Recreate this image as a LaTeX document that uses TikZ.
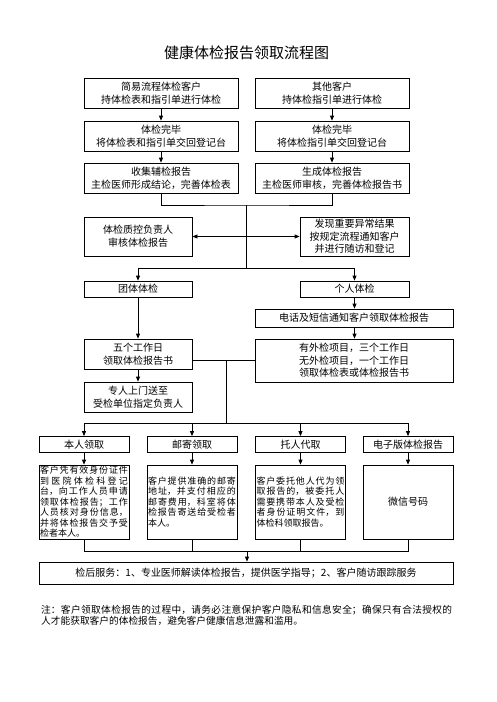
\documentclass[tikz,border=0pt]{standalone}
\usepackage{fontspec}
\setmainfont{Noto Sans CJK SC}
\usepackage{tikz}
\usetikzlibrary{arrows.meta}
\XeTeXlinebreaklocale "zh"
\XeTeXlinebreakskip=0pt plus 2pt

\begin{document}
\begin{tikzpicture}[x=1pt,y=-1pt,
    box/.style={draw,line width=0.75pt,inner sep=0pt,align=center,
      font=\fontsize{10}{13}\selectfont},
    txtbox/.style={draw,line width=0.75pt,inner sep=0pt,text width=88pt,
      align=justify,minimum width=90pt,minimum height=74pt,
      font=\fontsize{9}{10.5}\selectfont},
    arr/.style={-{Triangle[length=5pt,width=4pt]}},
    line/.style={line width=0.75pt}]
    \useasboundingbox (0,0) rectangle (496,702);
    \node[font=\fontsize{15}{18}\selectfont] (title) at (246.5,53) {健康体检报告领取流程图};
    % two entry columns
    \node[box,minimum width=154,minimum height=30] (a1) at (161,93) {简易流程体检客户\\持体检表和指引单进行体检};
    \node[box,minimum width=154,minimum height=30] (b1) at (332,93) {其他客户\\持体检指引单进行体检};
    \node[box,minimum width=154,minimum height=30] (a2) at (161,136) {体检完毕\\将体检表和指引单交回登记台};
    \node[box,minimum width=154,minimum height=30] (b2) at (332,136) {体检完毕\\将体检指引单交回登记台};
    \node[box,minimum width=154,minimum height=30] (a3) at (161,178) {收集辅检报告\\主检医师形成结论，完善体检表};
    \node[box,minimum width=154,minimum height=30] (b3) at (332,178) {生成体检报告\\主检医师审核，完善体检报告书};
    \draw[line,arr] (a1) -- (a2);
    \draw[line,arr] (a2) -- (a3);
    \draw[line,arr] (b1) -- (b2);
    \draw[line,arr] (b2) -- (b3);
    \coordinate (j1) at (246.5,205);
    \coordinate (j2) at (246.5,268);
    \draw[line] (a3.south) |- (j1) -| (b3.south);
    \draw[line] (j1) -- (j2);
    % review
    \node[box,minimum width=108,minimum height=39] (qc) at (138,236.5) {体检质控负责人\\审核体检报告};
    \node[box,minimum width=109,minimum height=39,font=\fontsize{10}{12.5}\selectfont] (abn) at (354.5,236.5) {发现重要异常结果\\按规定流程通知客户\\并进行随访和登记};
    \draw[line,{Triangle[length=5pt,width=4pt]}-{Triangle[length=5pt,width=4pt]}] (qc.east) -- (abn.west);
    % group / personal
    \node[box,minimum width=108,minimum height=16] (grp) at (138,289) {团体体检};
    \node[box,minimum width=109,minimum height=16] (per) at (354.5,289) {个人体检};
    \draw[line,arr] (j2) -| (grp.north);
    \draw[line,arr] (j2) -| (per.north);
    \node[box,minimum width=198,minimum height=18] (phone) at (354,318) {电话及短信通知客户领取体检报告};
    \node[box,minimum width=198,minimum height=43,font=\fontsize{10}{12.3}\selectfont] (ext) at (354,360.5) {有外检项目，三个工作日\\无外检项目，一个工作日\\领取体检表或体检报告书};
    \draw[line,arr] (per.south) -- (per.south |- phone.north);
    \draw[line,arr] (per.south |- phone.south) -- (per.south |- ext.north);
    \node[box,minimum width=108,minimum height=30,font=\fontsize{10}{12.5}\selectfont] (five) at (138,354) {五个工作日\\领取体检报告书};
    \node[box,minimum width=108,minimum height=30,font=\fontsize{10}{13.5}\selectfont] (send) at (138,397) {专人上门送至\\受检单位指定负责人};
    \draw[line,arr] (grp) -- (five);
    \draw[line,arr] (five) -- (send);
    \coordinate (j3) at (226,360.5);
    \coordinate (j4) at (226,423);
    \draw[line] (ext.west) -- (five.east |- ext.west);
    \draw[line] (j3) -- (j4);
    % ways to collect
    \node[box,minimum width=90,minimum height=16] (l1) at (84,444.5) {本人领取};
    \node[box,minimum width=90,minimum height=16] (l2) at (192,444.5) {邮寄领取};
    \node[box,minimum width=90,minimum height=16] (l3) at (300.5,444.5) {托人代取};
    \node[box,minimum width=90,minimum height=16] (l4) at (408,444.5) {电子版体检报告};
    \draw[line,arr] (j4) -| (l1.north);
    \draw[line,arr] (j4) -| (l2.north);
    \draw[line,arr] (j4) -| (l3.north);
    \draw[line,arr] (j4) -| (l4.north);
    \node[txtbox] (c1) at (84,502) {客户凭有效身份证件\linebreak 到医院体检科登记\linebreak 台，向工作人员申请领取体检报告；工作人员核对身份信息，并将体检报告交予受检者本人。};
    \node[txtbox] (c2) at (192,502) {客户提供准确的邮寄地址，并支付相应的邮寄费用，科室将体检报告寄送给受检者本人。};
    \node[txtbox] (c3) at (300.5,502) {客户委托他人代为领取报告的，被委托人需要携带本人及受检者身份证明文件，到体检科领取报告。};
    \node[box,minimum width=90,minimum height=74] (c4) at (408,502) {微信号码};
    \draw[line,arr] (l1) -- (c1);
    \draw[line,arr] (l2) -- (c2);
    \draw[line,arr] (l3) -- (c3);
    \draw[line,arr] (l4) -- (c4);
    \coordinate (j5) at (247,551);
    \draw[line] (c1.south) |- (j5);
    \draw[line] (c4.south) |- (j5);
    \draw[line] (c2.south) -- (c2.south |- j5);
    \draw[line] (c3.south) -- (c3.south |- j5);
    \node[box,minimum width=414,minimum height=22] (svc) at (246,573) {检后服务：1、专业医师解读体检报告，提供医学指导；2、客户随访跟踪服务};
    \draw[line,arr] (j5) -- (j5 |- svc.north);
    % note
    \node[anchor=north west,inner sep=0pt,text width=411pt,align=justify,
      font=\fontsize{9.7}{11.5}\selectfont] (note) at (41,605) {注：客户领取体检报告的过程中，请务必注意保护客户隐私和信息安全；确保只有合法授权的\linebreak 人才能获取客户的体检报告，避免客户健康信息泄露和滥用。};
\end{tikzpicture}
\end{document}
